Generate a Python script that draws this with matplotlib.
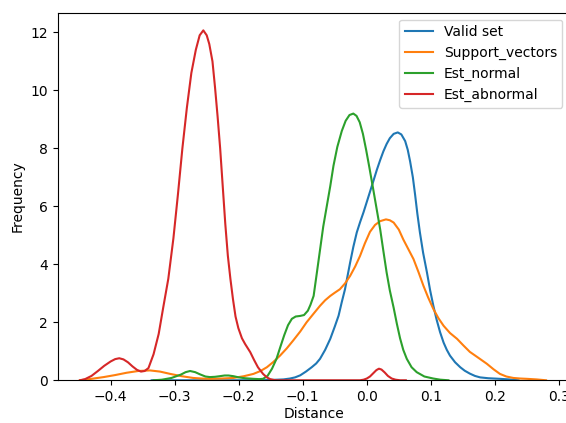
import matplotlib
matplotlib.use('Agg')
import matplotlib.pyplot as plt

# curves (distance, density)
valid_x = [-0.336, -0.3, -0.25, -0.2, -0.16, -0.14, -0.13, -0.12, -0.112, -0.104,
           -0.095, -0.086, -0.079, -0.073, -0.065, -0.057, -0.05, -0.044, -0.039,
           -0.034, -0.03, -0.026, -0.021, -0.0156, -0.0105, -0.005, 0.0, 0.005, 0.01,
           0.0156, 0.021, 0.026, 0.031, 0.036, 0.042, 0.0484, 0.054, 0.06, 0.064,
           0.0677, 0.072, 0.0755, 0.079, 0.083, 0.088, 0.094, 0.099, 0.104, 0.109,
           0.1145, 0.12, 0.125, 0.13, 0.138, 0.146, 0.153, 0.161, 0.169, 0.177,
           0.19, 0.208, 0.222, 0.237]
valid_y = [0.0, 0.0, 0.0, 0.0, 0.005, 0.02, 0.03, 0.06, 0.1, 0.17,
           0.3, 0.45, 0.58, 0.74, 1.05, 1.43, 1.85, 2.23, 2.7,
           3.14, 3.6, 4.06, 4.6, 5.1, 5.45, 5.8, 6.15, 6.5, 6.85,
           7.25, 7.6, 7.9, 8.15, 8.35, 8.5, 8.55, 8.48, 8.25, 7.95,
           7.55, 7.0, 6.4, 5.75, 5.1, 4.4, 3.72, 3.1, 2.57, 2.1,
           1.66, 1.3, 1.05, 0.85, 0.62, 0.45, 0.33, 0.23, 0.15, 0.1,
           0.07, 0.05, 0.03, 0.0]

sv_x = [-0.448, -0.43, -0.411, -0.393, -0.375, -0.357, -0.3386, -0.323, -0.307,
        -0.289, -0.271, -0.258, -0.245, -0.227, -0.2084, -0.192, -0.177, -0.166,
        -0.156, -0.146, -0.1355, -0.125, -0.115, -0.104, -0.094, -0.083, -0.073,
        -0.065, -0.057, -0.05, -0.042, -0.034, -0.026, -0.018, -0.0105, -0.003,
        0.005, 0.013, 0.021, 0.03, 0.036, 0.042, 0.05, 0.057, 0.065, 0.073, 0.081,
        0.0885, 0.096, 0.104, 0.112, 0.12, 0.13, 0.141, 0.151, 0.161, 0.174,
        0.1875, 0.198, 0.208, 0.218, 0.229, 0.24, 0.25, 0.265, 0.28]
sv_y = [0.0, 0.05, 0.11, 0.18, 0.26, 0.32, 0.34, 0.3, 0.22,
        0.14, 0.08, 0.06, 0.05, 0.06, 0.08, 0.14, 0.22, 0.32,
        0.45, 0.63, 0.85, 1.1, 1.37, 1.68, 2.0, 2.3, 2.57,
        2.76, 2.91, 3.02, 3.14, 3.34, 3.6, 3.93, 4.29, 4.72,
        5.12, 5.36, 5.49, 5.55, 5.52, 5.44, 5.2, 4.86, 4.52, 4.18, 3.72,
        3.26, 2.85, 2.46, 2.14, 1.88, 1.63, 1.43, 1.2, 0.98, 0.78,
        0.57, 0.38, 0.22, 0.13, 0.08, 0.06, 0.05, 0.03, 0.0]

norm_x = [-0.333, -0.32, -0.305, -0.29, -0.283, -0.276, -0.268, -0.26, -0.252,
          -0.245, -0.237, -0.23, -0.222, -0.216, -0.208, -0.2, -0.19, -0.177,
          -0.168, -0.162, -0.155, -0.148, -0.141, -0.135, -0.129, -0.123, -0.117,
          -0.111, -0.104, -0.098, -0.092, -0.088, -0.083, -0.078, -0.073, -0.068,
          -0.0625, -0.057, -0.052, -0.046, -0.039, -0.033, -0.027, -0.021, -0.016,
          -0.011, -0.006, -0.001, 0.004, 0.010, 0.0155, 0.021, 0.026, 0.031, 0.036,
          0.042, 0.047, 0.052, 0.057, 0.0625, 0.07, 0.078, 0.09, 0.104, 0.115, 0.1275]
norm_y = [0.0, 0.02, 0.08, 0.2, 0.28, 0.32, 0.28, 0.2, 0.13,
          0.11, 0.12, 0.14, 0.165, 0.165, 0.14, 0.1, 0.07, 0.05,
          0.04, 0.05, 0.15, 0.4, 0.74, 1.15, 1.55, 1.9, 2.12,
          2.2, 2.22, 2.25, 2.4, 2.6, 2.91, 3.7, 4.5, 5.3,
          6.0, 6.7, 7.4, 8.05, 8.6, 8.95, 9.15, 9.2, 9.12,
          8.9, 8.5, 7.95, 7.35, 6.6, 5.9, 5.2, 4.45, 3.72, 3.1,
          2.5, 1.95, 1.45, 1.05, 0.74, 0.45, 0.28, 0.13, 0.06, 0.02, 0.0]

abn_x = [-0.448, -0.44, -0.43, -0.42, -0.41, -0.4, -0.393, -0.3866, -0.38, -0.373,
         -0.366, -0.359, -0.3527, -0.347, -0.341, -0.333, -0.325, -0.318, -0.31,
         -0.302, -0.295, -0.288, -0.281, -0.274, -0.267, -0.261, -0.2553, -0.25,
         -0.246, -0.241, -0.237, -0.233, -0.229, -0.225, -0.221, -0.217, -0.213,
         -0.209, -0.205, -0.2006, -0.195, -0.19, -0.182, -0.176, -0.17, -0.162,
         -0.156, -0.151, -0.145, -0.14, -0.1, -0.05, -0.0105, -0.005, 0.0, 0.005,
         0.01, 0.015, 0.019, 0.023, 0.028, 0.033, 0.039, 0.045, 0.052, 0.061]
abn_y = [0.0, 0.04, 0.15, 0.32, 0.5, 0.65, 0.73, 0.76, 0.72, 0.62,
         0.48, 0.36, 0.30, 0.32, 0.42, 0.9, 1.6, 2.5, 3.5,
         4.9, 6.4, 8.0, 9.4, 10.6, 11.4, 11.9, 12.07, 11.9,
         11.6, 11.0, 10.1, 9.1, 8.0, 6.7, 5.4, 4.3, 3.5,
         2.8, 2.2, 1.8, 1.45, 1.25, 0.97, 0.7, 0.45, 0.22,
         0.1, 0.04, 0.01, 0.0, 0.0, 0.0, 0.0, 0.02, 0.06, 0.13,
         0.24, 0.35, 0.40, 0.37, 0.27, 0.15, 0.06, 0.02, 0.0, 0.0]

series = [("Valid set", valid_x, valid_y),
          ("Support_vectors", sv_x, sv_y),
          ("Est_normal", norm_x, norm_y),
          ("Est_abnormal", abn_x, abn_y)]

fig = plt.figure(figsize=(5.66, 4.23), dpi=100)
ax = fig.add_axes([0.102, 0.101, 0.904, 0.869])

for name, xs, ys in series:
    ax.plot(xs, ys, label=name, lw=1.5)

ax.set_xlim(-0.4827, 0.3165)
ax.set_ylim(0, 12.68)
ax.set_xticks([-0.4, -0.3, -0.2, -0.1, 0.0, 0.1, 0.2, 0.3])
ax.set_xlabel("Distance", labelpad=2)
ax.set_ylabel("Frequency")
ax.legend(loc="upper right")

fig.savefig("out.png", dpi=100)
